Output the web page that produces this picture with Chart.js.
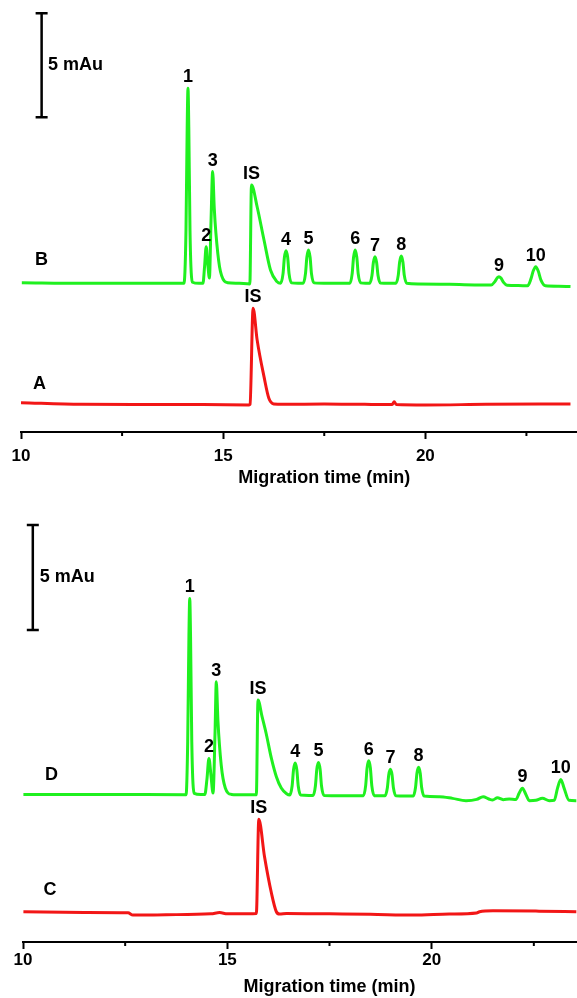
<!DOCTYPE html>
<html><head><meta charset="utf-8">
<script src="https://cdn.jsdelivr.net/npm/chart.js@4.4.1/dist/chart.umd.min.js"></script>
<style>
html,body{margin:0;padding:0;background:#fff;overflow:hidden;}
#wrap{width:577px;height:998px;overflow:hidden;position:relative;background:#fff;}
canvas{display:block;}
</style></head><body>
<div id="wrap">
<canvas id="chartTop" width="635" height="496"></canvas>
<canvas id="chartBottom" width="637" height="502"></canvas>
</div>
<script>
// ---------- DATA (migration time in min, absorbance in mAu relative to each trace's baseline) ----------
const xTitle = 'Migration time (min)';
const tickValues = [10, 12.5, 15, 17.5, 20, 22.5, 25];
const majorTickLabels = [10, 15, 20];
const scaleBarValue = 5;
const scaleBarLabel = '5 mAu';
const peakNames = ['1','2','3','IS','4','5','6','7','8','9','10'];

// Trace B (top, green)
const timeB = [10.02, 11.5, 13.0,
  14.03, 14.08, 14.11, 14.13, 14.15, 14.18, 14.24, 14.40,
  14.50, 14.54, 14.58, 14.62, 14.66,
  14.70, 14.74, 14.78, 14.82, 14.91, 15.03, 15.11, 15.40,
  15.66, 15.70, 15.84, 16.01, 16.17, 16.33, 16.42,
  16.48, 16.515, 16.555, 16.595, 16.63, 16.69, 16.85,
  16.98, 17.035, 17.07, 17.11, 17.15, 17.185, 17.245, 17.60,
  18.135, 18.19, 18.225, 18.265, 18.305, 18.34, 18.40, 18.52,
  18.625, 18.68, 18.715, 18.755, 18.795, 18.83, 18.89, 19.10,
  19.275, 19.33, 19.365, 19.405, 19.445, 19.48, 19.54, 19.83, 20.60, 21.22,
  21.63, 21.72, 21.78, 21.82, 21.87, 21.94, 22.02, 22.30,
  22.53, 22.61, 22.67, 22.73, 22.79, 22.86, 22.97, 23.30, 23.59];
const valueB = [0.03, 0.0, 0.0,
  0.0, 2.5, 7.5, 9.38, 7.5, 2.5, 0.05, 0.0,
  0.0, 0.8, 1.76, 0.9, 0.25,
  3.0, 5.37, 3.6, 2.42, 0.8, 0.1, 0.03, 0.0,
  -0.03, 4.73, 3.68, 2.08, 0.64, 0.08, 0.0,
  0.45, 1.25, 1.57, 1.25, 0.45, 0.02, 0.0,
  0.0, 0.45, 1.25, 1.60, 1.25, 0.45, 0.02, 0.0,
  0.0, 0.45, 1.25, 1.60, 1.25, 0.45, 0.02, 0.0,
  0.0, 0.37, 1.0, 1.28, 1.0, 0.37, 0.01, 0.0,
  0.0, 0.38, 1.03, 1.31, 1.03, 0.38, 0.0, -0.03, -0.05, -0.08,
  -0.08, 0.08, 0.27, 0.32, 0.25, 0.03, -0.10, -0.11,
  -0.12, 0.2, 0.6, 0.8, 0.6, 0.15, -0.12, -0.14, -0.16];

// Trace A (top, red)
const timeA = [10.0, 11.49, 13.0, 14.5, 15.64, 15.665, 15.74, 15.84, 16.01, 16.13, 16.25,
  16.5, 17.5, 18.5, 19.18, 19.23, 19.28, 20.0, 21.5, 23.59];
const valueA = [0.06, -0.02, -0.03, -0.03, -0.05, -0.02, 4.60, 3.08, 1.31, 0.27, 0.0,
  -0.02, 0.0, -0.02, -0.03, 0.1, -0.03, -0.05, -0.02, 0.0];

// Trace D (bottom, green)
const timeD = [10.01, 12.0,
  13.99, 14.03, 14.06, 14.08, 14.10, 14.13, 14.19, 14.35,
  14.45, 14.50, 14.55, 14.60, 14.65,
  14.70, 14.73, 14.77, 14.85, 14.95, 15.10, 15.40,
  15.71, 15.75, 15.85, 15.95, 16.08, 16.20, 16.32, 16.45,
  16.53, 16.585, 16.62, 16.66, 16.70, 16.735, 16.795, 17.0,
  17.10, 17.155, 17.19, 17.23, 17.27, 17.305, 17.365, 17.8,
  18.33, 18.385, 18.42, 18.46, 18.50, 18.535, 18.595, 18.75,
  18.86, 18.915, 18.95, 18.99, 19.03, 19.065, 19.125, 19.35,
  19.55, 19.605, 19.64, 19.68, 19.72, 19.755, 19.815,
  20.19, 20.51, 20.84, 21.10, 21.26, 21.40, 21.49, 21.61, 21.75, 21.90,
  22.06, 22.14, 22.22, 22.30, 22.39, 22.55, 22.71, 22.88,
  23.00, 23.08, 23.16, 23.24, 23.36, 23.54];
const valueD = [0.0, 0.0,
  -0.02, 2.5, 7.5, 9.33, 7.5, 2.5, 0.05, 0.0,
  0.0, 0.7, 1.71, 0.9, 0.06,
  3.0, 5.36, 3.5, 1.4, 0.3, 0.0, -0.02,
  -0.02, 4.49, 3.7, 2.9, 1.7, 0.84, 0.3, 0.03,
  -0.03, 0.4, 1.18, 1.50, 1.18, 0.4, -0.03, -0.05,
  -0.05, 0.4, 1.2, 1.52, 1.2, 0.4, -0.05, -0.06,
  -0.06, 0.42, 1.26, 1.60, 1.26, 0.42, -0.06, -0.07,
  -0.07, 0.3, 0.94, 1.20, 0.94, 0.3, -0.07, -0.08,
  -0.08, 0.33, 1.01, 1.29, 1.01, 0.33, -0.08,
  -0.11, -0.19, -0.30, -0.24, -0.11, -0.22, -0.27, -0.16, -0.25, -0.22,
  -0.24, 0.05, 0.29, 0.02, -0.30, -0.28, -0.19, -0.30,
  -0.28, 0.3, 0.71, 0.3, -0.28, -0.30];

// Trace C (bottom, red)
const timeC = [10.01, 11.5, 12.57, 12.69, 13.5, 14.6, 14.81, 15.0, 15.5, 15.71, 15.77, 15.91,
  16.08, 16.20, 16.28, 16.45, 17.5, 18.5, 19.55, 20.43, 21.10, 21.17, 21.5, 22.63, 23.54];
const valueC = [0.0, -0.03, -0.05, -0.16, -0.14, -0.10, -0.04, -0.10, -0.10, -0.08, 4.40, 2.62,
  0.88, 0.0, -0.11, -0.08, -0.10, -0.12, -0.16, -0.11, -0.06, 0.0, 0.05, 0.03, 0.0];

// Peak apexes used for the peak labels
const peakTimesB = [14.13, 14.58, 14.74, 15.70, 16.555, 17.11, 18.265, 18.755, 19.405, 21.82, 22.73];
const peakValuesB = [9.38, 1.76, 5.37, 4.73, 1.57, 1.60, 1.60, 1.28, 1.31, 0.32, 0.80];
const peakTimesD = [14.08, 14.55, 14.73, 15.75, 16.66, 17.23, 18.46, 18.99, 19.68, 22.22, 23.16];
const peakValuesD = [9.33, 1.71, 5.36, 4.49, 1.50, 1.52, 1.60, 1.20, 1.29, 0.29, 0.71];
const isNameRed = ['IS'];
const isTimeA = [15.74], isValueA = [4.60];
const isTimeC = [15.77], isValueC = [4.40];

// ---------- RENDERING ----------
const FONT = '"Liberation Sans", Arial, Helvetica, sans-serif';
const GREEN = '#1ff01f', RED = '#f21616';

function pts(ts, vs, off) { return ts.map((t, i) => ({x: t, y: vs[i] + off})); }

function makeChart(id, cfg) {
  const annotate = {
    id: 'annotate_' + id,
    afterDraw(chart) {
      const {ctx, scales: {x, y}} = chart;
      ctx.save();
      ctx.fillStyle = '#000';
      ctx.strokeStyle = '#000';
      // scale bar
      const bx = x.getPixelForValue(cfg.bar.t);
      const y0 = y.getPixelForValue(cfg.bar.v0);
      const y1 = y.getPixelForValue(cfg.bar.v0 + scaleBarValue);
      ctx.lineWidth = 2.5;
      ctx.beginPath();
      ctx.moveTo(bx, y0); ctx.lineTo(bx, y1);
      ctx.moveTo(bx - 6, y0); ctx.lineTo(bx + 6, y0);
      ctx.moveTo(bx - 6, y1); ctx.lineTo(bx + 6, y1);
      ctx.stroke();
      ctx.font = 'bold 18px ' + FONT;
      ctx.textAlign = 'left';
      ctx.textBaseline = 'middle';
      ctx.fillText(scaleBarLabel, x.getPixelForValue(cfg.bar.textT), y.getPixelForValue(cfg.bar.textV));
      // trace letters
      ctx.textAlign = 'center';
      cfg.traceLabels.forEach(l => ctx.fillText(l.text, x.getPixelForValue(l.t), y.getPixelForValue(l.v)));
      // peak labels
      ctx.font = 'bold 18px ' + FONT;
      cfg.peaks.forEach(p => {
        p.names.forEach((n, i) => {
          ctx.fillText(n, x.getPixelForValue(p.times[i]), y.getPixelForValue(p.values[i] + p.off) - 11);
        });
      });
      // minor ticks
      ctx.lineWidth = 2;
      tickValues.filter(v => !majorTickLabels.includes(v)).forEach(v => {
        const px = x.getPixelForValue(v);
        ctx.beginPath(); ctx.moveTo(px, x.top); ctx.lineTo(px, x.top + 4); ctx.stroke();
      });
      ctx.restore();
    }
  };

  return new Chart(document.getElementById(id), {
    type: 'line',
    data: {
      datasets: cfg.traces.map(tr => ({
        data: pts(tr.t, tr.v, tr.off),
        borderColor: tr.color,
        borderWidth: 3,
        pointRadius: 0,
        fill: false,
        cubicInterpolationMode: 'monotone'
      }))
    },
    options: {
      responsive: false,
      animation: false,
      devicePixelRatio: 1,
      layout: {padding: {left: cfg.padLeft, right: 0, top: 0, bottom: 0}},
      plugins: {legend: {display: false}, tooltip: {enabled: false}},
      scales: {
        x: {
          type: 'linear', min: 10, max: 25,
          afterBuildTicks: s => { s.ticks = tickValues.map(v => ({value: v})); },
          afterFit: s => { s.height = cfg.axisH; },
          grid: {
            display: true, drawOnChartArea: false, drawTicks: true,
            tickLength: 7, tickWidth: 2,
            tickColor: c => (c.tick && majorTickLabels.includes(c.tick.value)) ? '#000' : 'rgba(0,0,0,0)'
          },
          border: {display: true, color: '#000', width: 2},
          ticks: {
            color: '#000', padding: cfg.tickPad, maxRotation: 0, autoSkip: false,
            font: {family: FONT, size: 17, weight: 'bold'},
            callback: v => majorTickLabels.includes(v) ? String(v) : ''
          },
          title: {
            display: true, text: xTitle, color: '#000',
            font: {family: FONT, size: 18, weight: 'bold'},
            padding: {top: 0, bottom: cfg.titlePad}
          }
        },
        y: {display: false, min: 0, max: cfg.yMax}
      }
    },
    plugins: [annotate]
  });
}

makeChart('chartTop', {
  padLeft: 21, axisH: 64, tickPad: 7.5, titlePad: 7, yMax: 20.77,
  traces: [
    {t: timeB, v: valueB, off: 7.15, color: GREEN},
    {t: timeA, v: valueA, off: 1.35, color: RED}
  ],
  bar: {t: 10.51, v0: 15.13, textT: 10.67, textV: 17.64},
  traceLabels: [{text: 'B', t: 10.51, v: 8.27}, {text: 'A', t: 10.46, v: 2.31}],
  peaks: [
    {names: peakNames, times: peakTimesB, values: peakValuesB, off: 7.15},
    {names: isNameRed, times: isTimeA, values: isValueA, off: 1.35}
  ]
});

makeChart('chartBottom', {
  padLeft: 23, axisH: 56, tickPad: 1, titlePad: 0, yMax: 21.24,
  traces: [
    {t: timeD, v: valueD, off: 7.03, color: GREEN},
    {t: timeC, v: valueC, off: 1.44, color: RED}
  ],
  bar: {t: 10.24, v0: 14.86, textT: 10.41, textV: 17.37},
  traceLabels: [{text: 'D', t: 10.70, v: 7.95}, {text: 'C', t: 10.66, v: 2.48}],
  peaks: [
    {names: peakNames, times: peakTimesD, values: peakValuesD, off: 7.03},
    {names: isNameRed, times: isTimeC, values: isValueC, off: 1.44}
  ]
});
</script>
</body></html>
